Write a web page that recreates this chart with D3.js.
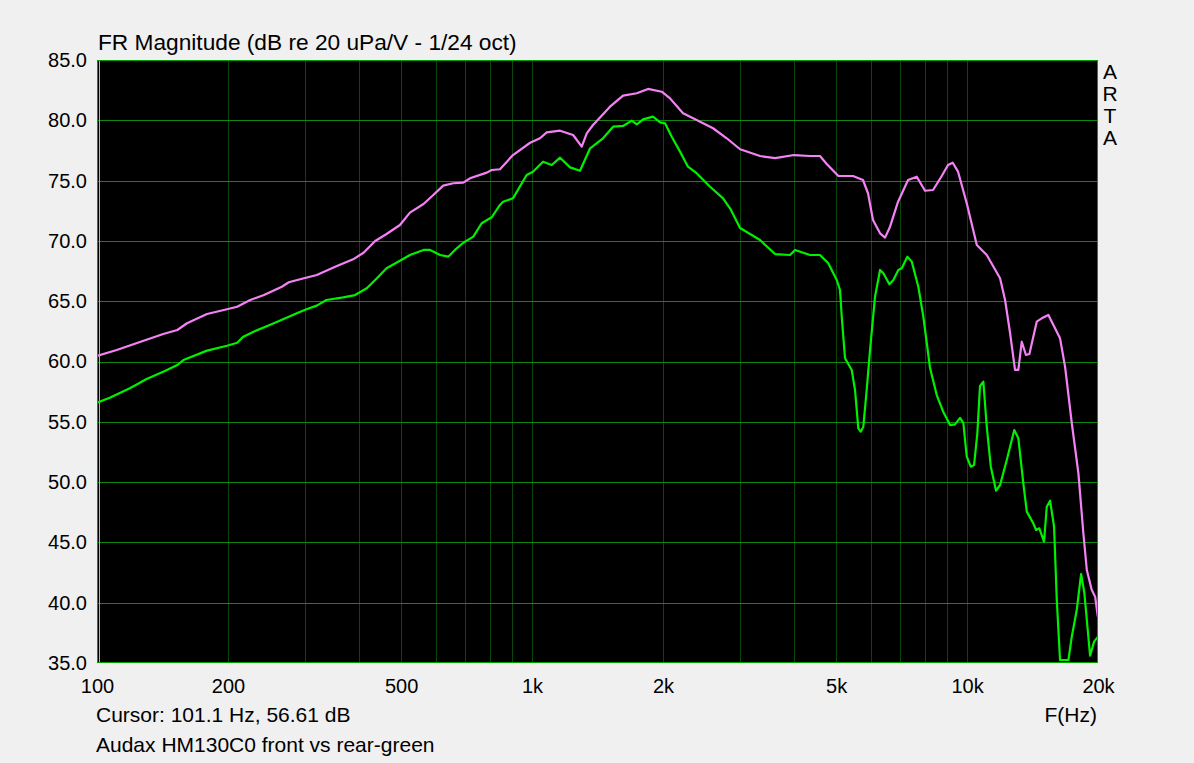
<!DOCTYPE html>
<html>
<head>
<meta charset="utf-8">
<script src="https://cdn.jsdelivr.net/npm/d3@7"></script>
<style>
  html, body { margin: 0; padding: 0; background: #f0f0f0; }
  svg { display: block; }
  text { font-family: "Liberation Sans", Arial, sans-serif; fill: #000; }
</style>
</head>
<body>
<svg id="chart" width="1194" height="763"></svg>
<script>
// ---- data (frequency in Hz, level in dB) ----
const frontCurve = [
  [100,60.46],[111,60.95],[126,61.64],[142,62.28],[153,62.61],[161,63.17],[179,63.94],[199,64.33],[210,64.54],[225,65.10],
  [242,65.51],[266,66.20],[276,66.57],[293,66.82],[320,67.17],[356,67.92],[388,68.47],[410,69.02],[436,69.99],[463,70.57],
  [497,71.32],[524,72.34],[563,73.06],[593,73.81],[625,74.58],[659,74.78],[695,74.83],[720,75.19],[787,75.66],[808,75.88],
  [844,75.94],[904,77.12],[990,78.14],[1043,78.51],[1081,79.0],[1160,79.14],[1243,78.78],[1301,77.81],[1336,78.92],[1381,79.61],
  [1511,81.13],[1619,82.04],[1741,82.24],[1848,82.6],[1987,82.37],[2076,81.82],[2224,80.58],[2390,80.02],[2607,79.34],[2803,78.51],
  [3008,77.6],[3343,77.04],[3620,76.87],[4003,77.12],[4356,77.04],[4592,77.04],[4758,76.38],[5060,75.38],[5468,75.38],[5765,75.05],
  [5920,73.95],[6079,71.73],[6310,70.63],[6479,70.27],[6653,71.18],[6941,73.25],[7318,75.05],[7663,75.32],[8006,74.16],[8353,74.22],
  [8746,75.38],[9042,76.29],[9270,76.48],[9535,75.74],[9984,73.12],[10530,69.66],[11100,68.83],[11910,66.9],[12230,65.1],[12560,62.34],
  [12890,59.3],[13120,59.3],[13360,61.64],[13660,60.54],[13910,60.62],[14460,63.3],[14850,63.58],[15380,63.86],[16360,61.92],[16800,59.57],
  [17410,54.88],[18030,50.73],[18510,45.75],[18850,42.71],[19350,41.05],[19700,40.5],[19980,38.84]
];
const rearCurve = [
  [100,56.58],[107,57.0],[119,57.78],[124,58.13],[130,58.55],[142,59.15],[153,59.71],[158,60.12],[179,60.9],[199,61.31],
  [210,61.56],[217,62.06],[229,62.47],[255,63.17],[288,64.0],[303,64.33],[320,64.63],[337,65.1],[368,65.32],[392,65.51],
  [417,66.07],[440,66.9],[463,67.73],[497,68.36],[524,68.83],[563,69.25],[583,69.25],[615,68.83],[642,68.69],[665,69.25],
  [695,69.85],[733,70.35],[766,71.46],[808,71.96],[844,72.98],[858,73.25],[904,73.53],[972,75.46],[1005,75.74],[1060,76.57],
  [1110,76.29],[1160,76.9],[1223,76.1],[1289,75.82],[1360,77.68],[1456,78.51],[1536,79.47],[1619,79.53],[1695,79.97],[1741,79.67],
  [1800,80.08],[1897,80.3],[1970,79.83],[2022,79.75],[2095,78.64],[2189,77.4],[2283,76.15],[2390,75.61],[2566,74.49],[2749,73.53],
  [2852,72.7],[3008,71.07],[3343,70.07],[3620,68.91],[3919,68.83],[4024,69.25],[4356,68.83],[4592,68.83],[4798,68.14],[5017,66.76],
  [5105,65.93],[5152,63.71],[5242,60.27],[5431,59.3],[5527,57.64],[5624,54.46],[5696,54.18],[5775,54.59],[5879,57.64],[5984,60.95],
  [6144,65.37],[6310,67.59],[6422,67.31],[6629,66.4],[6771,66.76],[6952,67.59],[7078,67.73],[7291,68.69],[7463,68.28],[7727,66.2],
  [7935,63.71],[8221,59.46],[8518,57.22],[8821,55.81],[9139,54.73],[9384,54.78],[9636,55.32],[9806,54.9],[9984,52.11],[10197,51.28],
  [10380,51.42],[10560,54.05],[10710,57.97],[10900,58.33],[11100,54.59],[11340,51.28],[11660,49.29],[11910,49.76],[12340,51.83],[12840,54.32],
  [13120,53.63],[13470,49.9],[13720,47.55],[14200,46.58],[14410,46.03],[14660,46.17],[15030,45.06],[15250,47.96],[15520,48.46],[15850,46.3],
  [16080,40.22],[16360,35.25],[17100,35.25],[17410,37.18],[17870,39.39],[18290,42.38],[18610,40.78],[19180,35.61],[19590,36.77],[20000,37.18]
];
const yTickValues = [35, 40, 45, 50, 55, 60, 65, 70, 75, 80, 85];
const xTickValues = [100, 200, 500, 1000, 2000, 5000, 10000, 20000];
const xTickLabels = ["100", "200", "500", "1k", "2k", "5k", "10k", "20k"];
const xGridValues = [200,300,400,500,600,700,800,900,1000,2000,3000,4000,5000,6000,7000,8000,9000,10000];
const cursorFreq = 101.1;
const titleText = "FR Magnitude (dB re 20 uPa/V - 1/24 oct)";
const cursorText = "Cursor: 101.1 Hz, 56.61 dB";
const legendText = "Audax HM130C0 front vs rear-green";
const xAxisTitle = "F(Hz)";
const brandLetters = ["A", "R", "T", "A"];

// ---- layout ----
const L = 97, R = 1098, T = 60, B = 663;
const svg = d3.select("#chart");
const x = d3.scaleLog().domain([100, 20000]).range([L, R]);
const y = d3.scaleLinear().domain([35, 85]).range([B, T]);

svg.append("rect").attr("x", 0).attr("y", 0).attr("width", 1194).attr("height", 763).attr("fill", "#f0f0f0");
svg.append("rect").attr("x", L).attr("y", T).attr("width", R - L).attr("height", B - T).attr("fill", "#000");

svg.append("defs").append("clipPath").attr("id", "plotclip")
  .append("rect").attr("x", L).attr("y", T).attr("width", R - L).attr("height", B - T);

// grid
const grid = svg.append("g").attr("shape-rendering", "crispEdges");
grid.selectAll("line.v").data(xGridValues).join("line")
  .attr("class", "v")
  .attr("x1", d => Math.round(x(d)) + 0.5).attr("x2", d => Math.round(x(d)) + 0.5)
  .attr("y1", T).attr("y2", B)
  .attr("stroke", "#0a460a").attr("stroke-width", 1);
grid.selectAll("line.h").data(yTickValues.slice(1, -1)).join("line")
  .attr("class", "h")
  .attr("x1", L).attr("x2", R)
  .attr("y1", d => Math.round(y(d)) + 0.5).attr("y2", d => Math.round(y(d)) + 0.5)
  .attr("stroke", "#0f8a0f").attr("stroke-width", 1);

// cursor
svg.append("line")
  .attr("x1", Math.round(x(cursorFreq)) + 0.5).attr("x2", Math.round(x(cursorFreq)) + 0.5)
  .attr("y1", T).attr("y2", B)
  .attr("stroke", "#d8c000").attr("stroke-width", 1).attr("shape-rendering", "crispEdges");

// curves
const line = d3.line().x(d => x(d[0])).y(d => y(d[1]));
const curves = svg.append("g").attr("clip-path", "url(#plotclip)");
curves.append("path").datum(frontCurve).attr("d", line)
  .attr("fill", "none").attr("stroke", "#f582f5").attr("stroke-width", 2.2).attr("stroke-linejoin", "round");
curves.append("path").datum(rearCurve).attr("d", line)
  .attr("fill", "none").attr("stroke", "#00f000").attr("stroke-width", 2.2).attr("stroke-linejoin", "round");

// frame
svg.append("rect").attr("x", L + 0.5).attr("y", T + 0.5).attr("width", R - L - 1).attr("height", B - T - 1)
  .attr("fill", "none").attr("stroke", "#00a000").attr("stroke-width", 1).attr("shape-rendering", "crispEdges");

// axes
const fs = 20;
const xAxis = d3.axisBottom(x).tickValues(xTickValues)
  .tickFormat((d, i) => xTickLabels[i]).tickSize(0).tickPadding(16);
const gx = svg.append("g").attr("transform", `translate(0,${B})`).call(xAxis);
gx.select(".domain").remove();
gx.selectAll("text").style("font-size", fs + "px").attr("fill", "#000")
  .style("font-family", "'Liberation Sans', Arial, sans-serif");

const yAxis = d3.axisLeft(y).tickValues(yTickValues).tickFormat(d3.format(".1f")).tickSize(0).tickPadding(10);
const gy = svg.append("g").attr("transform", `translate(${L},0)`).call(yAxis);
gy.select(".domain").remove();
gy.selectAll("text").style("font-size", fs + "px").attr("fill", "#000")
  .style("font-family", "'Liberation Sans', Arial, sans-serif");

// texts
svg.append("text").attr("x", 98).attr("y", 50).style("font-size", "22.7px").text(titleText);
svg.append("text").attr("x", 96).attr("y", 722).style("font-size", "21px").text(cursorText);
svg.append("text").attr("x", 96).attr("y", 752).style("font-size", "21px").text(legendText);
svg.append("text").attr("x", 1097).attr("y", 722).attr("text-anchor", "end").style("font-size", "21px").text(xAxisTitle);
svg.selectAll("text.brand").data(brandLetters).join("text")
  .attr("class", "brand")
  .attr("x", 1110).attr("y", (d, i) => 79 + i * 22)
  .attr("text-anchor", "middle").style("font-size", "21px").text(d => d);
</script>
</body>
</html>
